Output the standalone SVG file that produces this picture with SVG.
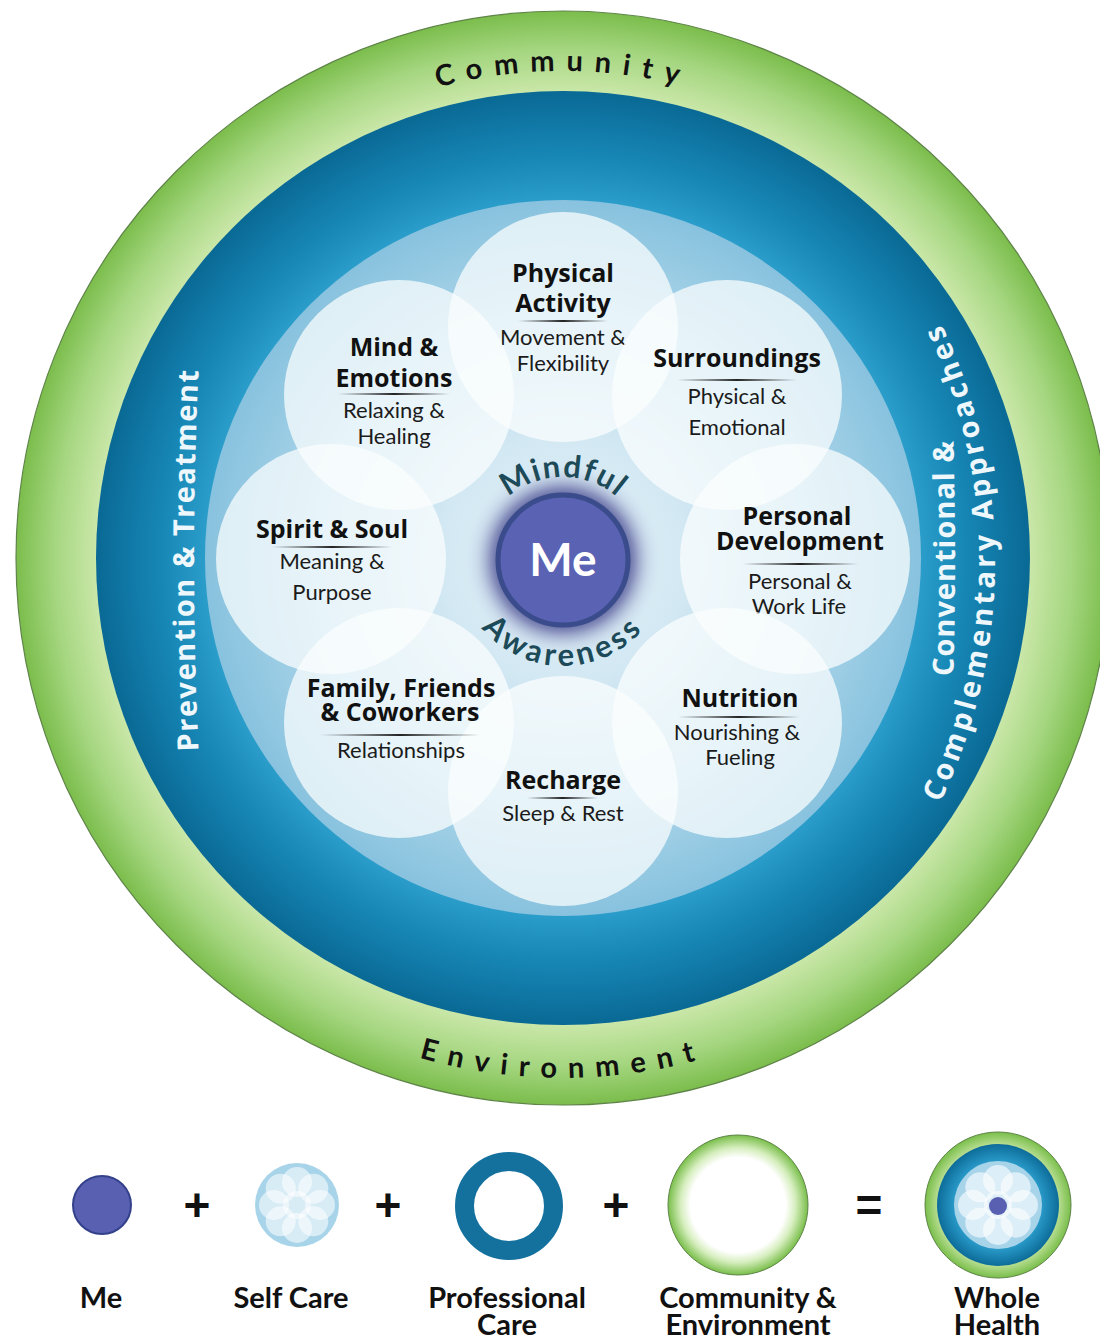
<svg xmlns="http://www.w3.org/2000/svg" width="1100" height="1343" viewBox="0 0 1100 1343">
<style>
.t{font-family:"Open Sans",Lato,"Liberation Sans",sans-serif;font-weight:700;font-size:25px;fill:#111;text-anchor:middle}
.s{font-family:Lato,"Liberation Sans",sans-serif;font-weight:400;font-size:22px;fill:#1b1b1b;text-anchor:middle}
.ring{font-family:Lato,"Liberation Sans",sans-serif;font-weight:700;font-size:29px;fill:#111}
.side{font-family:"Open Sans",Lato,"Liberation Sans",sans-serif;font-weight:700;font-size:29px;fill:#eef7fb}
.ma{font-family:Lato,"Liberation Sans",sans-serif;font-weight:700;font-size:31px;fill:#1c4a58}
.lg{font-family:Lato,"Liberation Sans",sans-serif;font-weight:700;font-size:29px;fill:#111;text-anchor:middle}
.op{font-family:"Liberation Sans",Arial,sans-serif;font-weight:700;font-size:46px;fill:#111;text-anchor:middle}
.petal{fill:#fbfdfe;fill-opacity:.74}
.div{fill:url(#gDiv)}
</style>
<defs>
<radialGradient id="gGreen" gradientUnits="userSpaceOnUse" cx="563" cy="558" r="547">
<stop offset="0.85" stop-color="#cbe8aa"/><stop offset="0.93" stop-color="#a5d680"/><stop offset="1" stop-color="#7bbd4c"/>
</radialGradient>
<radialGradient id="gBlue" gradientUnits="userSpaceOnUse" cx="563" cy="558" r="467">
<stop offset="0.766" stop-color="#2b9dca"/><stop offset="0.86" stop-color="#1787b6"/><stop offset="1" stop-color="#0a6995"/>
</radialGradient>
<radialGradient id="gLight" gradientUnits="userSpaceOnUse" cx="563" cy="559" r="358">
<stop offset="0" stop-color="#e6f2f8"/><stop offset="0.35" stop-color="#d2e8f3"/><stop offset="0.7" stop-color="#acd6ea"/><stop offset="1" stop-color="#88c2de"/>
</radialGradient>
<radialGradient id="gGlow" gradientUnits="userSpaceOnUse" cx="563" cy="560" r="100">
<stop offset="0.6" stop-color="#3f4687" stop-opacity="1"/><stop offset="0.72" stop-color="#6d73aa" stop-opacity="0.75"/><stop offset="0.85" stop-color="#a9b3d3" stop-opacity="0.35"/><stop offset="1" stop-color="#d6e8f2" stop-opacity="0"/>
</radialGradient>
<linearGradient id="gDiv" x1="0" y1="0" x2="1" y2="0">
<stop offset="0" stop-color="#333" stop-opacity="0"/><stop offset="0.5" stop-color="#222" stop-opacity="1"/><stop offset="1" stop-color="#333" stop-opacity="0"/>
</linearGradient>
<radialGradient id="gLgGreen" cx="0.5" cy="0.5" r="0.5">
<stop offset="0.68" stop-color="#ffffff"/><stop offset="0.82" stop-color="#d6eebe"/><stop offset="1" stop-color="#79be4a"/>
</radialGradient>
<radialGradient id="gLgGreen2" cx="0.5" cy="0.5" r="0.5">
<stop offset="0.8" stop-color="#c3e39f"/><stop offset="1" stop-color="#79be4a"/>
</radialGradient>
<radialGradient id="gLgBlue" cx="0.5" cy="0.5" r="0.5">
<stop offset="0.7" stop-color="#2a9ccb"/><stop offset="1" stop-color="#0d6c99"/>
</radialGradient>
<path id="pCommunity" d="M105.4,391.4 A487,487 0 0 1 1020.6,391.4"/>
<path id="pEnvironment" d="M74.4,735.8 A520,520 0 0 0 1051.6,735.8"/>
<path id="pPrevention" d="M201.8,810 A4000,4000 0 0 1 201.8,310"/>
<path id="pConventional" d="M947.2,808 A4000,4000 0 0 0 947.2,308"/>
<path id="pComplementary" d="M907,862 A555,555 0 0 0 907,262"/>
<path id="pMindful" d="M480,560 A83,83 0 0 1 646,560"/>
<path id="pAwareness" d="M457,560 A106,106 0 0 0 669,560"/>
</defs>

<rect x="0" y="0" width="1100" height="1343" fill="#ffffff"/>

<g id="community-environment-ring">
<circle cx="563" cy="558" r="547" fill="url(#gGreen)" stroke="#5e8448" stroke-width="1.2"/>
<text class="ring" letter-spacing="11.5"><textPath href="#pCommunity" startOffset="50%" text-anchor="middle">Community</textPath></text>
<text class="ring" letter-spacing="11.5"><textPath href="#pEnvironment" startOffset="50%" text-anchor="middle">Environment</textPath></text>
</g>

<g id="professional-care-ring">
<circle cx="563" cy="558" r="467" fill="url(#gBlue)"/>
<text class="side" letter-spacing="1.4"><textPath href="#pPrevention" startOffset="50%" text-anchor="middle">Prevention &amp; Treatment</textPath></text>
<text class="side" letter-spacing="1"><textPath href="#pConventional" startOffset="50%" text-anchor="middle">Conventional &amp;</textPath></text>
<text class="side" letter-spacing="3.6"><textPath href="#pComplementary" startOffset="50%" text-anchor="middle">Complementary Approaches</textPath></text>
</g>

<g id="self-care-area">
<circle cx="563" cy="558" r="358" fill="url(#gLight)"/>
</g>

<g id="physical-activity">
<circle class="petal" cx="563" cy="327" r="115"/>
<text class="t" x="563" y="282">Physical</text>
<text class="t" x="563" y="312">Activity</text>
<rect class="div" x="518" y="320" width="90" height="2"/>
<text class="s" x="563" y="345">Movement &amp;</text>
<text class="s" x="563" y="371">Flexibility</text>
</g>

<g id="surroundings">
<circle class="petal" cx="727" cy="395" r="115"/>
<text class="t" x="737" y="367">Surroundings</text>
<rect class="div" x="677" y="379" width="120" height="2"/>
<text class="s" x="737" y="404">Physical &amp;</text>
<text class="s" x="737" y="435">Emotional</text>
</g>

<g id="personal-development">
<circle class="petal" cx="795" cy="559" r="115"/>
<text class="t" x="797" y="525">Personal</text>
<text class="t" x="800" y="550">Development</text>
<rect class="div" x="743" y="563" width="115" height="2"/>
<text class="s" x="800" y="589">Personal &amp;</text>
<text class="s" x="799" y="614">Work Life</text>
</g>

<g id="nutrition">
<circle class="petal" cx="727" cy="723" r="115"/>
<text class="t" x="740" y="707">Nutrition</text>
<rect class="div" x="678" y="716" width="122" height="2"/>
<text class="s" x="737" y="740">Nourishing &amp;</text>
<text class="s" x="740" y="765">Fueling</text>
</g>

<g id="recharge">
<circle class="petal" cx="563" cy="791" r="115"/>
<text class="t" x="563" y="789">Recharge</text>
<rect class="div" x="527" y="797" width="71" height="2"/>
<text class="s" x="563" y="821">Sleep &amp; Rest</text>
</g>

<g id="family-friends-coworkers">
<circle class="petal" cx="399" cy="723" r="115"/>
<text class="t" x="401" y="697">Family, Friends</text>
<text class="t" x="400" y="721">&amp; Coworkers</text>
<rect class="div" x="320" y="734" width="160" height="2"/>
<text class="s" x="401" y="758">Relationships</text>
</g>

<g id="spirit-soul">
<circle class="petal" cx="331" cy="559" r="115"/>
<text class="t" x="332" y="538">Spirit &amp; Soul</text>
<rect class="div" x="272" y="546" width="120" height="2"/>
<text class="s" x="332" y="569">Meaning &amp;</text>
<text class="s" x="332" y="600">Purpose</text>
</g>

<g id="mind-emotions">
<circle class="petal" cx="399" cy="395" r="115"/>
<text class="t" x="394" y="356">Mind &amp;</text>
<text class="t" x="394" y="387">Emotions</text>
<rect class="div" x="338" y="393" width="112" height="2"/>
<text class="s" x="394" y="418">Relaxing &amp;</text>
<text class="s" x="394" y="444">Healing</text>
</g>

<g id="me">
<circle cx="563" cy="560" r="100" fill="url(#gGlow)"/>
<circle cx="563" cy="560" r="65" fill="#5a62b4" stroke="#3a4c8c" stroke-width="5"/>
<text x="563" y="576" font-family="Lato, 'Liberation Sans', sans-serif" font-weight="700" font-size="46" fill="#ffffff" text-anchor="middle">Me</text>
<text class="ma" letter-spacing="1.5"><textPath href="#pMindful" startOffset="50%" text-anchor="middle">Mindful</textPath></text>
<text class="ma" letter-spacing="4"><textPath href="#pAwareness" startOffset="50%" text-anchor="middle">Awareness</textPath></text>
</g>

<g id="connectors"></g>

<g id="legend-me">
<circle cx="102" cy="1205" r="29" fill="#5960b1" stroke="#33418a" stroke-width="2"/>
<text class="lg" x="101" y="1308">Me</text>
</g>
<g id="legend-plus-1"><text class="op" x="197" y="1221">+</text></g>
<g id="legend-self-care">
<circle cx="297" cy="1205" r="42" fill="#a8d4ea"/>
<g fill="#ffffff" fill-opacity="0.55">
<circle cx="297" cy="1182" r="15"/><circle cx="313.3" cy="1188.7" r="15"/><circle cx="320" cy="1205" r="15"/><circle cx="313.3" cy="1221.3" r="15"/>
<circle cx="297" cy="1228" r="15"/><circle cx="280.7" cy="1221.3" r="15"/><circle cx="274" cy="1205" r="15"/><circle cx="280.7" cy="1188.7" r="15"/>
<circle cx="297" cy="1205" r="14"/>
</g>
<text class="lg" x="291" y="1308">Self Care</text>
</g>
<g id="legend-plus-2"><text class="op" x="388" y="1221">+</text></g>
<g id="legend-professional-care">
<circle cx="509" cy="1206" r="44.5" fill="none" stroke="#14719e" stroke-width="19"/>
<text class="lg" x="507" y="1308">Professional</text>
<text class="lg" x="507" y="1335">Care</text>
</g>
<g id="legend-plus-3"><text class="op" x="616" y="1221">+</text></g>
<g id="legend-community-environment">
<circle cx="738" cy="1205" r="70" fill="url(#gLgGreen)" stroke="#5e8448" stroke-width="1"/>
<text class="lg" x="748" y="1308">Community &amp;</text>
<text class="lg" x="748" y="1335">Environment</text>
</g>
<g id="legend-equals"><text class="op" x="869" y="1221">=</text></g>
<g id="legend-whole-health">
<circle cx="998" cy="1205" r="73" fill="url(#gLgGreen2)" stroke="#5e8448" stroke-width="1"/>
<circle cx="998" cy="1205" r="61" fill="url(#gLgBlue)"/>
<circle cx="998" cy="1205" r="44" fill="#a8d4ea"/>
<g fill="#ffffff" fill-opacity="0.6">
<circle cx="998" cy="1180" r="15"/><circle cx="1015.7" cy="1187.3" r="15"/><circle cx="1023" cy="1205" r="15"/><circle cx="1015.7" cy="1222.7" r="15"/>
<circle cx="998" cy="1230" r="15"/><circle cx="980.3" cy="1222.7" r="15"/><circle cx="973" cy="1205" r="15"/><circle cx="980.3" cy="1187.3" r="15"/>
<circle cx="998" cy="1205" r="14"/>
</g>
<circle cx="998" cy="1206" r="9" fill="#5960b1"/>
<text class="lg" x="997" y="1308">Whole</text>
<text class="lg" x="997" y="1335">Health</text>
</g>
</svg>
